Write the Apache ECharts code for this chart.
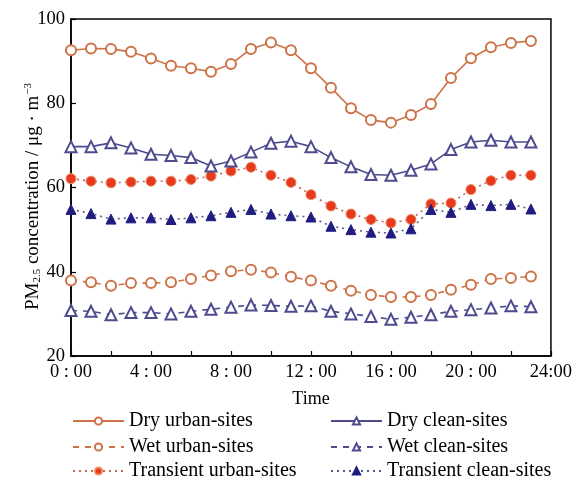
<!DOCTYPE html>
<html>
<head>
<meta charset="utf-8">
<script src="https://cdn.jsdelivr.net/npm/echarts@6/dist/echarts.min.js"></script>
<style>
  html, body { margin: 0; padding: 0; background: #fff; }
  #chart { width: 575px; height: 480px; }
</style>
</head>
<body>
<div id="chart"></div>
<script>
// Hour of day for each observation
const hours = [0, 1, 2, 3, 4, 5, 6, 7, 8, 9, 10, 11, 12, 13, 14, 15, 16, 17, 18, 19, 20, 21, 22, 23];

// PM2.5 concentration (μg·m⁻³)
const dryUrban = [92.6, 93.0, 92.9, 92.2, 90.6, 88.9, 88.3, 87.5, 89.3, 92.9, 94.4, 92.6, 88.3, 83.7, 78.8, 76.0, 75.4, 77.2, 79.8, 86.0, 90.7, 93.3, 94.3, 94.8];
const wetUrban = [37.9, 37.5, 36.7, 37.3, 37.3, 37.5, 38.3, 39.1, 40.1, 40.5, 39.8, 38.8, 37.9, 36.7, 35.5, 34.5, 34.0, 34.0, 34.5, 35.7, 36.9, 38.3, 38.5, 38.9];
const transientUrban = [62.1, 61.5, 61.1, 61.3, 61.5, 61.5, 61.9, 62.7, 63.9, 64.8, 62.9, 61.2, 58.3, 55.6, 53.7, 52.4, 51.6, 52.4, 56.1, 56.3, 59.5, 61.6, 62.9, 62.9];
const dryClean = [69.7, 69.7, 70.6, 69.4, 67.9, 67.6, 67.1, 65.1, 66.3, 68.4, 70.5, 71.0, 69.7, 67.1, 64.9, 63.1, 62.9, 64.1, 65.6, 69.0, 70.8, 71.2, 70.8, 70.8];
const wetClean = [30.8, 30.6, 29.8, 30.3, 30.3, 30.0, 30.6, 31.1, 31.6, 32.1, 32.0, 31.8, 31.9, 30.6, 30.0, 29.4, 28.7, 29.2, 29.8, 30.6, 31.0, 31.4, 31.9, 31.7];
const transientClean = [54.8, 53.8, 52.5, 52.8, 52.8, 52.4, 52.8, 53.3, 54.1, 54.8, 53.7, 53.3, 53.0, 50.8, 50.0, 49.4, 49.2, 50.2, 54.8, 54.1, 56.0, 55.7, 56.0, 54.9];

// Axis tick labels
const xTickLabels = { 0: '0 : 00', 4: '4 : 00', 8: '8 : 00', 12: '12 : 00', 16: '16 : 00', 20: '20 : 00', 24: '24:00' };
const yTicks = [20, 40, 60, 80, 100];

// Legend layout: two columns of three entries
const legendColumns = [
  ['Dry urban-sites', 'Wet urban-sites', 'Transient urban-sites'],
  ['Dry clean-sites', 'Wet clean-sites', 'Transient clean-sites']
];

const FONT = 'Liberation Serif';
const ORANGE = '#CD7348';
const PURPLE = '#4E4B8E';
const RED = '#E53A1E';
const NAVY = '#1F1D80';

function pairs(vals) { return hours.map((h, i) => [h, vals[i]]); }

function series(name, vals, opt) {
  return {
    name: name,
    type: 'line',
    data: pairs(vals),
    symbol: opt.symbol,
    symbolSize: opt.size,
    showAllSymbol: true,
    lineStyle: { color: opt.lineColor, width: 1.6, type: opt.lineType },
    itemStyle: { color: opt.fill, borderColor: opt.border, borderWidth: opt.borderWidth },
    z: opt.z || 2
  };
}

// One legend block per entry so each row sits at its own height
const colLeft = [72, 330];
const rowTop = [411, 437, 461];
const legends = [];
legendColumns.forEach((col, c) => {
  col.forEach((name, r) => {
    legends.push({
      left: colLeft[c], top: rowTop[r], padding: 0,
      itemWidth: 51, itemHeight: 9, itemGap: 8,
      textStyle: { fontFamily: FONT, fontSize: 20, color: '#000' },
      data: [name]
    });
  });
});

const chart = echarts.init(document.getElementById('chart'), null, { renderer: 'canvas' });

chart.setOption({
  animation: false,
  backgroundColor: '#fff',
  textStyle: { fontFamily: FONT },
  grid: {
    left: 71, right: 22, top: 19, bottom: 124,
    show: true, borderColor: '#000', borderWidth: 1.5, backgroundColor: 'transparent'
  },
  xAxis: {
    type: 'value', min: 0, max: 24, interval: 2,
    name: 'Time', nameLocation: 'middle', nameGap: 34,
    nameTextStyle: { fontFamily: FONT, fontSize: 18, color: '#000' },
    axisLine: { lineStyle: { color: '#000', width: 1.5 } },
    axisTick: { inside: true, length: 5, lineStyle: { color: '#000', width: 1.2 } },
    axisLabel: {
      fontFamily: FONT, fontSize: 18.5, color: '#000', margin: 7,
      formatter: v => xTickLabels[v] !== undefined ? xTickLabels[v] : ''
    },
    splitLine: { show: false }
  },
  yAxis: {
    type: 'value', min: yTicks[0], max: yTicks[yTicks.length - 1], interval: 20,
    name: '{a|PM}{sub|2.5}{a| concentration / μg · m}{sup|−3}',
    nameLocation: 'middle', nameGap: 28, nameMoveOverlap: false,
    nameTextStyle: {
      color: '#000',
      padding: [0, 18, 0, 0],
      rich: {
        a: { fontFamily: FONT, fontSize: 19, color: '#000', lineHeight: 20, verticalAlign: 'middle' },
        sub: { fontFamily: FONT, fontSize: 11, color: '#000', lineHeight: 11, verticalAlign: 'bottom', padding: [9, 0, 0, 0] },
        sup: { fontFamily: FONT, fontSize: 11, color: '#000', lineHeight: 11, verticalAlign: 'top', padding: [0, 0, 9, 1] }
      }
    },
    axisLine: { lineStyle: { color: '#000', width: 1.5 } },
    axisTick: { inside: true, length: 5, lineStyle: { color: '#000', width: 1.2 } },
    axisLabel: { fontFamily: FONT, fontSize: 18.5, color: '#000', margin: 6 },
    splitLine: { show: false }
  },
  legend: legends,
  series: [
    series('Dry urban-sites', dryUrban, { symbol: 'circle', size: 10, lineColor: ORANGE, lineType: 'solid', fill: '#fff', border: ORANGE, borderWidth: 2 }),
    series('Wet urban-sites', wetUrban, { symbol: 'circle', size: 10, lineColor: ORANGE, lineType: [6, 6], fill: '#fff', border: ORANGE, borderWidth: 2 }),
    series('Transient urban-sites', transientUrban, { symbol: 'circle', size: 10, lineColor: '#C0655A', lineType: [2, 4], fill: RED, border: '#F08A60', borderWidth: 1 }),
    series('Dry clean-sites', dryClean, { symbol: 'triangle', size: 11, lineColor: PURPLE, lineType: 'solid', fill: '#fff', border: PURPLE, borderWidth: 2 }),
    series('Wet clean-sites', wetClean, { symbol: 'triangle', size: 11, lineColor: PURPLE, lineType: [6, 6], fill: '#fff', border: PURPLE, borderWidth: 2 }),
    series('Transient clean-sites', transientClean, { symbol: 'triangle', size: 10, lineColor: '#5A5890', lineType: [2, 4], fill: NAVY, border: NAVY, borderWidth: 1 })
  ]
});
</script>
</body>
</html>
